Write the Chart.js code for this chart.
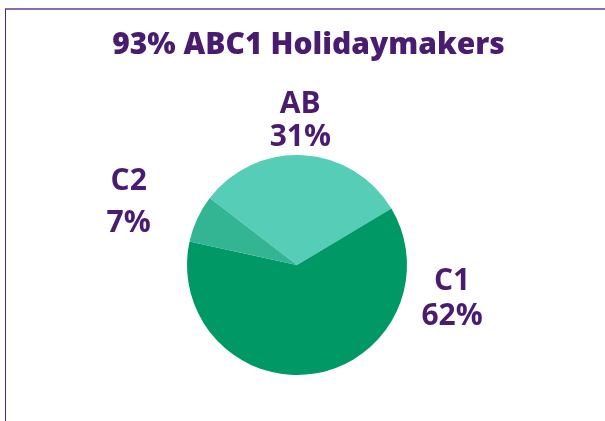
<!DOCTYPE html>
<html>
<head>
<meta charset="utf-8">
<script src="https://cdn.jsdelivr.net/npm/chart.js@4/dist/chart.umd.min.js"></script>
<style>
  html, body { margin: 0; padding: 0; background: #ffffff; }
  #wrap { position: relative; width: 605px; height: 421px; overflow: hidden; }
  #frame { position: absolute; left: 5px; top: 8px; width: 620px; height: 440px;
           border-top: 2px solid #8a6bb0; border-left: 1px solid #4b2376; box-sizing: border-box; }
  canvas { position: absolute; left: 0; top: 0; }
</style>
</head>
<body>
<div id="wrap">
  <div id="frame"></div>
  <canvas id="c" width="605" height="421"></canvas>
</div>
<script>
const titleText = "93% ABC1 Holidaymakers";
const categories = ["AB", "C1", "C2"];
const shares = [31, 62, 7];
const valueLabels = ["31%", "62%", "7%"];
const sliceColors = ["#56cdb7", "#009966", "#33b593"];

// label block placement relative to pie centre, in units of the pie radius
const labelPlacement = [
  { dx: 0.03, dy: -1.33, gap: 33 },
  { dx: 1.41, dy: 0.29, gap: 35 },
  { dx: -1.53, dy: -0.59, gap: 42 }
];

const textColor = "#4a1c6f";
const fontFamily = "'Open Sans', Lato, sans-serif";

const labelPlugin = {
  id: 'labelPlugin',
  afterDraw(chart) {
    const ctx = chart.ctx;
    ctx.save();
    ctx.fillStyle = textColor;
    ctx.textAlign = 'center';
    ctx.textBaseline = 'alphabetic';
    // title
    ctx.font = "800 30px " + fontFamily;
    ctx.fillText(titleText, 308.5, 54);
    // data labels
    const meta = chart.getDatasetMeta(0);
    meta.data.forEach((arc, i) => {
      const p = labelPlacement[i];
      const r = arc.outerRadius;
      const cx = arc.x + p.dx * r;
      const cy = arc.y + p.dy * r;
      ctx.font = "700 30px " + fontFamily;
      const cap = 10.7;
      ctx.fillText(categories[i], cx, cy - p.gap / 2 + cap);
      ctx.fillText(valueLabels[i], cx, cy + p.gap / 2 + cap);
    });
    ctx.restore();
  }
};

new Chart(document.getElementById('c'), {
  type: 'pie',
  data: {
    labels: categories,
    datasets: [{
      data: shares,
      backgroundColor: sliceColors,
      borderWidth: 0
    }]
  },
  options: {
    responsive: false,
    animation: false,
    rotation: -52.5,
    layout: { padding: { top: 155, bottom: 46, left: 187, right: 198 } },
    plugins: {
      legend: { display: false },
      title: { display: false },
      tooltip: { enabled: false }
    }
  },
  plugins: [labelPlugin]
});
</script>
</body>
</html>
